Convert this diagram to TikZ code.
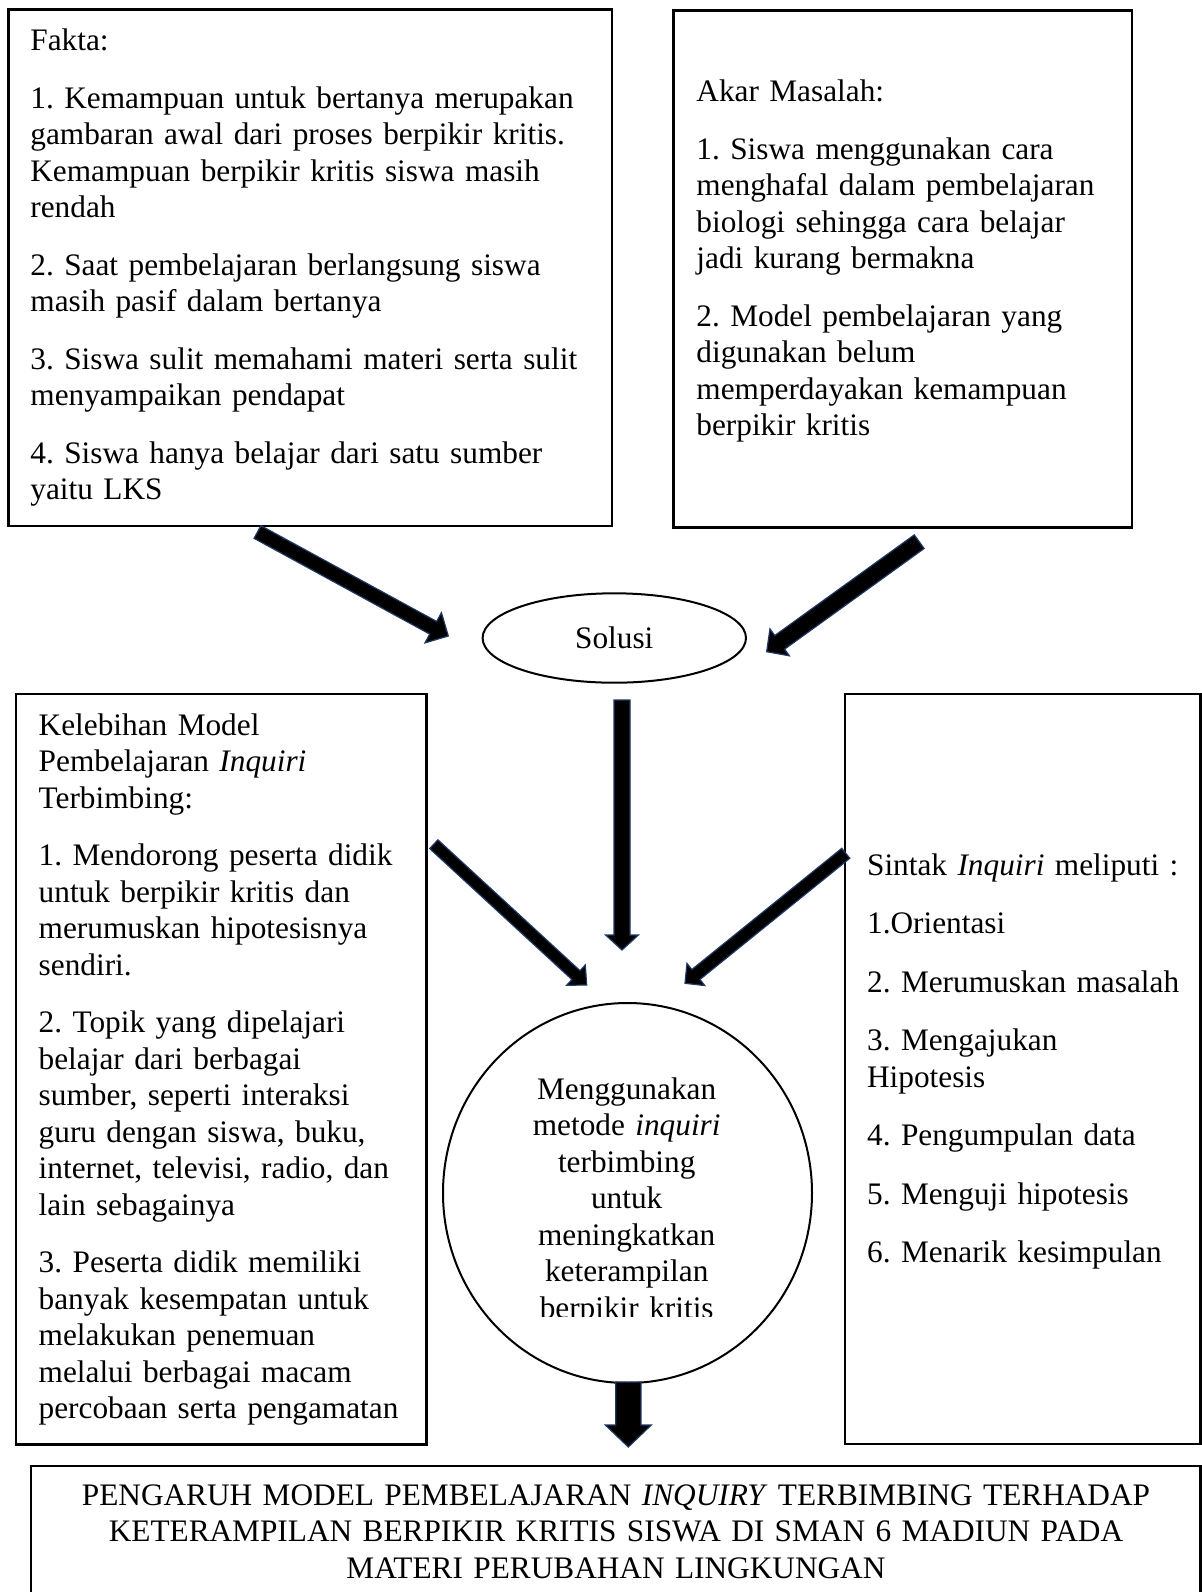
\documentclass[tikz,border=0pt]{standalone}
\usepackage{fontspec}
\setmainfont{Liberation Serif}
\usetikzlibrary{calc,shapes.geometric}
\definecolor{arrowedge}{RGB}{31,56,100}
\frenchspacing
\tikzset{
  boxline/.style={draw=black, line width=1.2pt},
  txt/.style={inner sep=0pt, align=left, font=\fontsize{15.65pt}{18.25pt}\selectfont\frenchspacing, anchor=base west},
  ctxt/.style={inner sep=0pt, align=center, font=\fontsize{15.65pt}{18.25pt}\selectfont\frenchspacing, anchor=base},
  fatarr/.style={fill=black, draw=arrowedge, line width=0.6pt, line join=miter},
  oval/.style={draw=black, line width=1pt, ellipse, inner sep=0pt}
}
% #1 tail coordinate, #2 tip coordinate, #3 half shaft width, #4 half head width, #5 head length
\newcommand\fatarrow[5]{%
  \coordinate (fah) at ($(#2)!#5!(#1)$);
  \draw[fatarr] ($(#1)!#3!90:(#2)$) -- ($(fah)!#3!-90:(#1)$) -- ($(fah)!#4!-90:(#1)$)
     -- (#2) -- ($(fah)!#4!90:(#1)$) -- ($(fah)!#3!90:(#1)$) -- ($(#1)!#3!-90:(#2)$) -- cycle;
}
\begin{document}
\begin{tikzpicture}[x=0.5pt,y=-0.5pt]
\useasboundingbox (0,0) rectangle (1202,1592);
\fill[white] (0,0) rectangle (1202,1592);

% boxes
\draw[boxline] (8.5,9.5) rectangle (612,526);
\draw[boxline] (673.5,10.5) rectangle (1132,527.5);
\draw[boxline] (16,694) rectangle (426.5,1444.5);
\draw[boxline] (845,694) rectangle (1200.5,1444);
\draw[boxline] (31,1466) rectangle (1200.5,1620);

% Fakta
\node[txt, text width=580pt] (fakta) at (30,50.7) {Fakta:\\[10.5pt]
1. Kemampuan untuk bertanya merupakan\\
gambaran awal dari proses berpikir kritis.\\
Kemampuan berpikir kritis siswa masih\\
rendah\\[10.5pt]
2. Saat pembelajaran berlangsung siswa\\
masih pasif dalam bertanya\\[10.5pt]
3. Siswa sulit memahami materi serta sulit\\
menyampaikan pendapat\\[10.5pt]
4. Siswa hanya belajar dari satu sumber\\
yaitu LKS};

% Akar Masalah
\node[txt, text width=440pt] (akar) at (696,101.7) {Akar Masalah:\\[10.5pt]
1. Siswa menggunakan cara\\
menghafal dalam pembelajaran\\
biologi sehingga cara belajar\\
jadi kurang bermakna\\[10.5pt]
2. Model pembelajaran yang\\
digunakan belum\\
memperdayakan kemampuan\\
berpikir kritis};

% Solusi
\node[oval, minimum width=131.7pt, minimum height=44.7pt,
      font=\fontsize{15.65pt}{18.25pt}\selectfont] (solusi) at (614.3,638) {Solusi};

% Kelebihan
\node[txt, text width=400pt] (kelebihan) at (38.3,735) {Kelebihan Model\\
Pembelajaran \textit{Inquiri}\\
Terbimbing:\\[10.5pt]
1. Mendorong peserta didik\\
untuk berpikir kritis dan\\
merumuskan hipotesisnya\\
sendiri.\\[10.5pt]
2. Topik yang dipelajari\\
belajar dari berbagai\\
sumber, seperti interaksi\\
guru dengan siswa, buku,\\
internet, televisi, radio, dan\\
lain sebagainya\\[10.5pt]
3. Peserta didik memiliki\\
banyak kesempatan untuk\\
melakukan penemuan\\
melalui berbagai macam\\
percobaan serta pengamatan};

% Sintak
\node[txt, text width=340pt] (sintak) at (866.7,875) {Sintak \textit{Inquiri} meliputi :\\[11pt]
1.Orientasi\\[11pt]
2. Merumuskan masalah\\[11pt]
3. Mengajukan\\
Hipotesis\\[11pt]
4. Pengumpulan data\\[11pt]
5. Menguji hipotesis\\[11pt]
6. Menarik kesimpulan};

% central circle
\node[oval, minimum width=184.5pt, minimum height=190pt] (metode) at (627.5,1193) {};
\begin{scope}
  \clip (430,1000) rectangle (830,1316.5);
  \node[ctxt, text width=160pt] (metodetext) at (626.7,1099.3) {Menggunakan\\
metode \textit{inquiri}\\
terbimbing\\
untuk\\
meningkatkan\\
keterampilan\\
berpikir kritis};
\end{scope}

% title
\node[ctxt, text width=580pt] (judul) at (616,1505) {PENGARUH MODEL PEMBELAJARAN \textit{INQUIRY} TERBIMBING TERHADAP\\
KETERAMPILAN BERPIKIR KRITIS SISWA DI SMAN 6 MADIUN PADA\\
MATERI PERUBAHAN LINGKUNGAN};

% arrow end points
\coordinate (a1s) at (257.5,532);   \coordinate (a1e) at (448.3,636);
\coordinate (a2s) at (919.2,541.7); \coordinate (a2e) at (766.7,651.7);
\coordinate (a3s) at (622,700);     \coordinate (a3e) at (622,950);
\coordinate (a4s) at (433.8,844.2); \coordinate (a4e) at (586.7,985);
\coordinate (a5s) at (845.8,853.3); \coordinate (a5e) at (685,983.3);
\coordinate (a6s) at (628.3,1382);  \coordinate (a6e) at (628.3,1447);

\fatarrow{a1s}{a1e}{3.6pt}{8.6pt}{8.6pt}
\fatarrow{a2s}{a2e}{4.2pt}{8.3pt}{8pt}
\fatarrow{a3s}{a3e}{4pt}{8.2pt}{7.5pt}
\fatarrow{a4s}{a4e}{3pt}{6.9pt}{7.3pt}
\fatarrow{a5s}{a5e}{3.2pt}{7.1pt}{7pt}
\fatarrow{a6s}{a6e}{6.3pt}{11.5pt}{11pt}
\end{tikzpicture}
\end{document}
